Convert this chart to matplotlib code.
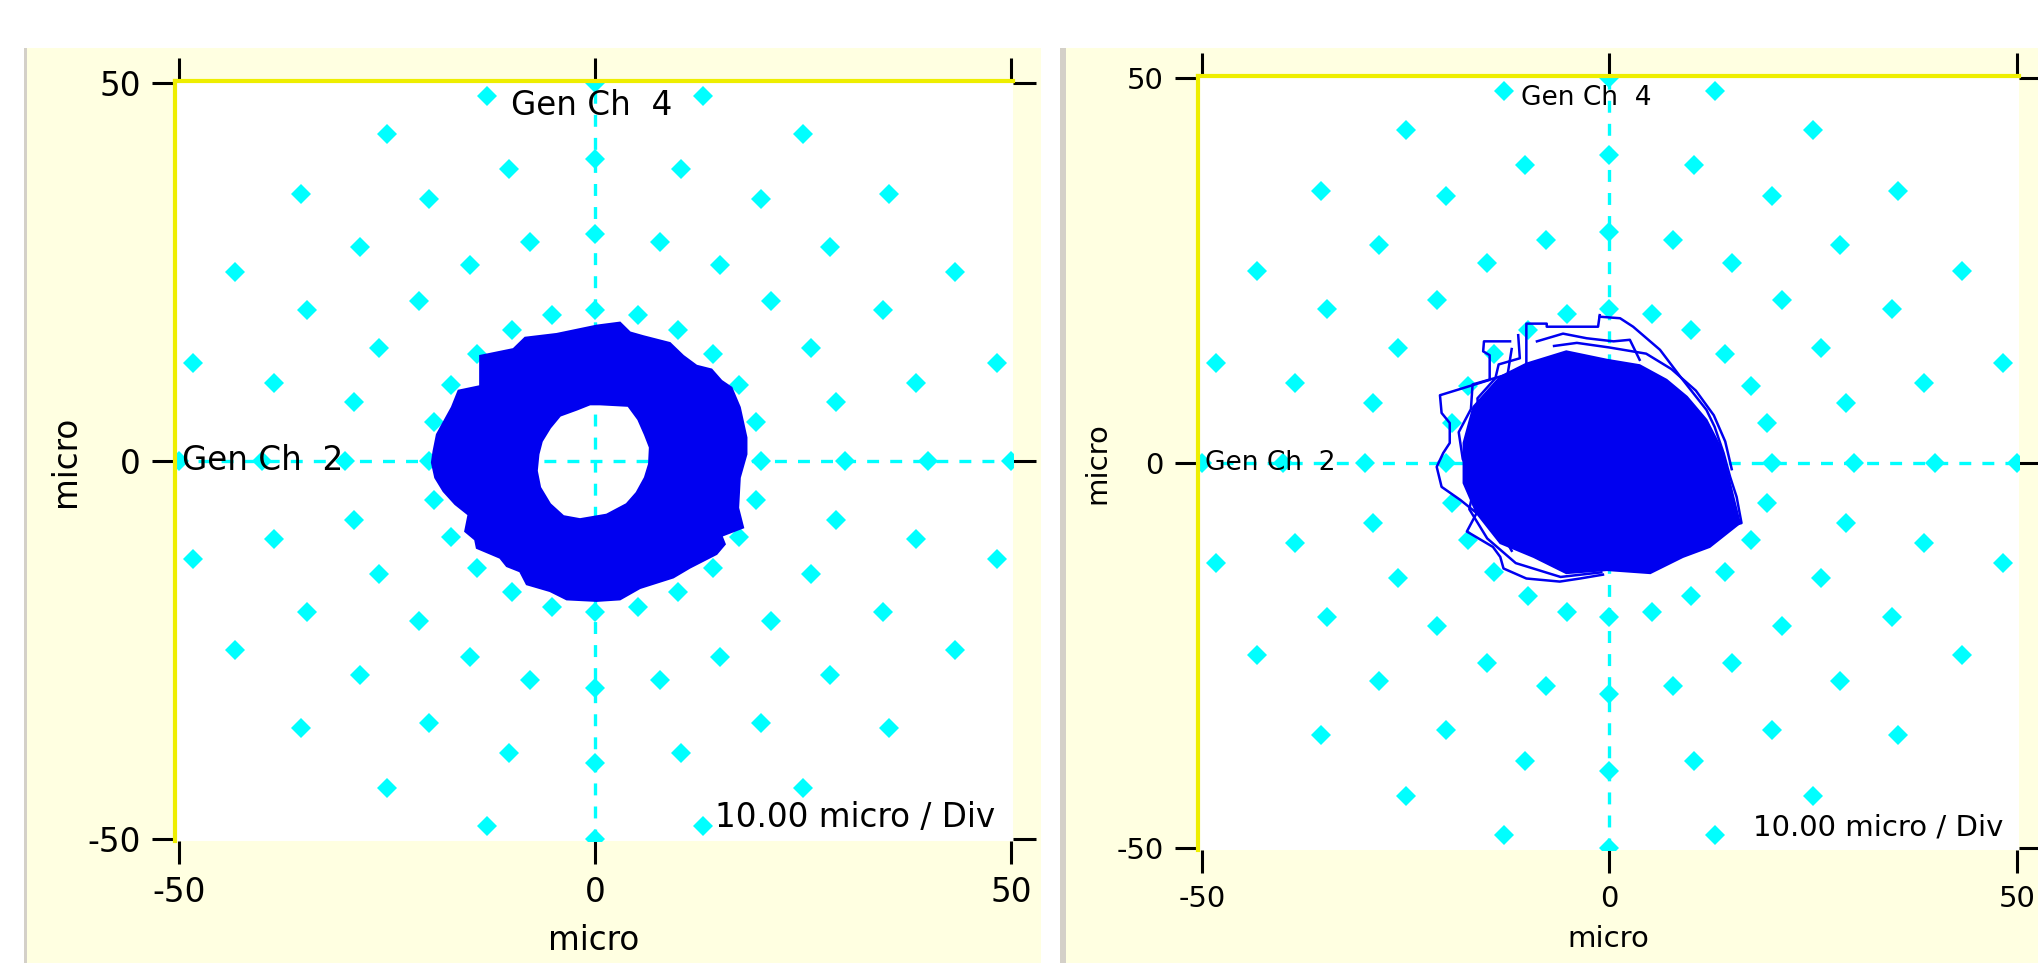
"""Two orbit plots (Gen Ch 2 vs Gen Ch 4) on a cream instrument-style background."""
import numpy as np
import matplotlib
matplotlib.use("Agg")
import matplotlib.pyplot as plt
from matplotlib.patches import Rectangle, PathPatch
from matplotlib.path import Path

W, H = 2038, 963

# polar graticule of the orbit display (micro)
RING_RADII = [10, 20, 30, 40, 50]
RING_ANGLES = [0, 15, 30, 45, 60, 75, 90, 105, 120, 135, 150, 165,
               180, 195, 210, 225, 240, 255, 270, 285, 300, 315, 330, 345]

TICKS = [-50, 0, 50]

# left orbit: dense ring, outer and inner edge
L_OUTER_X = [3.0, 0.2, -4.6, -8.4, -9.8, -13.8, -13.8, -16.4, -17.2, -18.2, -19.0,
             -19.4, -19.6, -19.2, -18.2, -16.8, -15.2, -15.6, -14.4, -14.2, -11.4,
             -10.6, -9.0, -8.2, -5.4, -3.4, 0.2, 3.0, 5.4, 9.4, 11.4, 14.6, 15.6,
             15.2, 17.8, 17.2, 17.4, 18.2, 18.2, 17.4, 16.4, 15.2, 14.0, 12.2,
             10.6, 9.0, 5.8, 4.2]
L_OUTER_Y = [18.3, 17.9, 16.8, 16.3, 14.8, 13.9, 9.9, 9.3, 7.1, 5.1, 3.5,
             1.3, -0.2, -2.2, -4.0, -5.7, -7.1, -9.3, -10.4, -11.5, -12.8,
             -13.9, -14.6, -16.3, -17.2, -18.3, -18.5, -18.3, -16.8, -15.4, -14.1,
             -12.3, -11.0, -9.9, -8.8, -6.2, -2.2, 0.9, 3.1, 7.1, 9.7, 10.6, 12.1,
             12.6, 13.9, 15.6, 16.5, 17.0]
L_INNER_X = [0.6, 4.0, 5.2, 6.0, 6.6, 6.5, 6.0, 5.0, 3.8, 1.4, -1.8, -3.8, -5.4,
             -6.6, -7.0, -6.8, -6.4, -5.4, -4.2, -2.2, -0.6]
L_INNER_Y = [7.5, 7.3, 5.5, 3.5, 1.8, -0.4, -2.2, -4.2, -5.7, -7.1, -7.7, -7.3,
             -5.7, -3.5, -1.3, 0.9, 2.6, 4.4, 6.0, 6.8, 7.5]

# right orbit: dense core plus the loose outer loops
R_CORE_X = [-10.2, -5.3, -0.3, 3.7, 7.0, 9.5, 11.9, 13.6, 14.6, 15.2, 16.0, 12.3,
            9.0, 5.0, -0.3, -5.3, -9.3, -13.4, -16.3, -17.9, -17.9, -16.7, -13.4]
R_CORE_Y = [12.9, 14.5, 13.4, 12.7, 10.8, 8.6, 5.6, 2.1, -1.8, -4.4, -7.8, -10.9,
            -12.2, -14.3, -13.9, -14.3, -12.2, -10.4, -6.5, -2.6, 2.6, 7.3, 11.2]
R_LOOP1_X = [-1.2, -1.4, -7.7, -7.7, -10.2, -10.2]
R_LOOP1_Y = [19.2, 17.7, 17.7, 18.1, 18.1, 12.9]
R_LOOP2_X = [-12.2, -15.4, -15.5, -14.7, -14.7, -15.9, -20.8, -20.6, -19.6, -19.6,
             -20.4, -21.2, -20.6, -18.3, -16.3, -17.5, -14.3, -13.4, -13.0, -10.2,
             -6.1, -3.6, -0.8]
R_LOOP2_Y = [15.8, 15.8, 14.5, 14.0, 10.8, 10.4, 8.8, 6.5, 5.2, 2.6,
             1.3, -0.5, -3.1, -4.8, -6.5, -8.9, -10.9, -12.2, -13.7, -15.0,
             -15.4, -15.0, -14.5]
R_LOOP3_X = [-1.2, 1.3, 2.9, 6.2, 8.7, 11.9, 12.9, 14.0, 14.8, 15.6, 16.2, 14.4]
R_LOOP3_Y = [19.0, 18.8, 17.7, 14.7, 11.2, 6.9, 4.7, 1.3, -1.8, -4.4, -7.8, -8.3]
R_LOOP4_X = [-8.9, -5.7, -2.8, 0.5, 2.5, 3.7]
R_LOOP4_Y = [15.8, 16.8, 16.2, 15.8, 16.0, 13.4]
R_LOOP5_X = [-12.0, -12.5, -16.8, -17.0, -18.5, -18.0, -16.5, -17.2, -15.0, -11.5,
             -6.0, -1.0]
R_LOOP5_Y = [14.8, 11.5, 10.2, 7.0, 4.0, 0.5, -2.5, -6.0, -9.8, -13.0,
             -14.8, -14.2]
R_LOOP6_X = [-11.2, -11.0, -13.6, -14.0, -16.2, -16.0, -15.0, -15.6, -13.8, -12.0]
R_LOOP6_Y = [16.6, 13.6, 12.8, 11.0, 8.4, 5.0, 1.0, -4.0, -8.0, -11.4]
R_LOOP7_X = [-6.8, -4.0, 0.0, 4.5, 7.6, 10.6, 12.8, 14.2, 15.0]
R_LOOP7_Y = [15.2, 15.6, 15.0, 14.2, 12.2, 9.4, 6.2, 2.8, -0.8]

CREAM = "#FFFFE1"
EDGE_GREY = "#D4D0C8"
YELLOW = "#EEEE00"
CYAN = "#00FFFF"
BLUE = "#0000F0"

plt.rcParams["font.family"] = ["DejaVu Sans"]
plt.rcParams["axes.unicode_minus"] = False
plt.rcParams["lines.scale_dashes"] = False


def fig_rect(fig, x0, y0, x1, y1, color):
    # pixel box (top-left origin) -> figure fraction
    fig.add_artist(Rectangle((x0 / W, 1 - y1 / H), (x1 - x0) / W, (y1 - y0) / H,
                             transform=fig.transFigure, color=color, lw=0, zorder=0))


def make_axes(fig, x0, y0, x1, y1, xlim, ylim):
    ax = fig.add_axes([x0 / W, 1 - y1 / H, (x1 - x0) / W, (y1 - y0) / H])
    ax.set_xlim(*xlim)
    ax.set_ylim(*ylim)
    ax.set_facecolor("white")
    for sp in ("right", "bottom"):
        ax.spines[sp].set_visible(False)
    for sp in ("left", "top"):
        ax.spines[sp].set_color(YELLOW)
        ax.spines[sp].set_linewidth(3)
    return ax


def dress(ax, fs, gen_fs, lab_x, lab_y, gen4_xy, div_xy):
    ax.set_xticks(TICKS)
    ax.set_yticks(TICKS)
    ax.tick_params(axis="both", which="both", direction="out", length=16.5, width=2.2,
                   color="black", labelsize=fs, top=True, right=True,
                   labeltop=False, labelright=False)
    ax.tick_params(axis="y", pad=8)
    ax.tick_params(axis="x", pad=9)

    # graticule + crosshair
    ang = np.deg2rad(RING_ANGLES)
    for r in RING_RADII:
        ax.plot(r * np.cos(ang), r * np.sin(ang), ls="none", marker="D", ms=10.5,
                mew=0, color=CYAN, zorder=2)
    ax.axhline(0, color=CYAN, lw=2.4, dashes=(8.6, 8), zorder=1)
    ax.axvline(0, color=CYAN, lw=2.4, dashes=(8.6, 8), zorder=1)

    ax.text(-49.6, 0, "Gen Ch  2", fontsize=gen_fs, ha="left", va="center", zorder=5)
    ax.text(gen4_xy[0], gen4_xy[1], "Gen Ch  4", fontsize=gen_fs, ha="center",
            va="center", zorder=5)
    ax.text(div_xy[0], div_xy[1], "10.00 micro / Div", fontsize=fs,
            ha="right", va="center", zorder=5)

    ax.text(lab_x, 0.5, "micro", rotation=90, fontsize=fs, ha="center", va="center",
            transform=ax.transAxes)
    ax.text(0.5, lab_y, "micro", fontsize=fs, ha="center", va="center",
            transform=ax.transAxes)


fig = plt.figure(figsize=(W / 100, H / 100), dpi=100)
fig.patch.set_facecolor("white")

# panel backgrounds with the grey left border
fig_rect(fig, 24, 48, 27, H, EDGE_GREY)
fig_rect(fig, 27, 48, 1041, H, CREAM)
fig_rect(fig, 1060, 48, 1066, H, EDGE_GREY)
fig_rect(fig, 1066, 48, W, H, CREAM)

# left panel
axl = make_axes(fig, 175, 81, 1013, 841, (-50.48, 50.24), (-50.26, 50.26))
dress(axl, 23.5, 23.5, -0.131, -0.131, (-0.4, 47.0), (48.1, -47.1))
outer = list(zip(L_OUTER_X, L_OUTER_Y)) + [(L_OUTER_X[0], L_OUTER_Y[0])]
hole = list(zip(L_INNER_X, L_INNER_Y)) + [(L_INNER_X[0], L_INNER_Y[0])]
codes = ([Path.MOVETO] + [Path.LINETO] * (len(outer) - 2) + [Path.CLOSEPOLY]
         + [Path.MOVETO] + [Path.LINETO] * (len(hole) - 2) + [Path.CLOSEPOLY])
axl.add_patch(PathPatch(Path(outer + hole, codes), facecolor=BLUE, edgecolor=BLUE,
                        lw=1.5, zorder=3))

# right panel
axr = make_axes(fig, 1198, 76, 2019, 850, (-50.49, 50.25), (-50.26, 50.26))
dress(axr, 21.0, 19.0, -0.122, -0.115, (-2.9, 47.4), (48.3, -47.4))
axr.fill(R_CORE_X, R_CORE_Y, color=BLUE, lw=1.5, zorder=3)
for lx, ly in ((R_LOOP1_X, R_LOOP1_Y), (R_LOOP2_X, R_LOOP2_Y), (R_LOOP3_X, R_LOOP3_Y),
               (R_LOOP4_X, R_LOOP4_Y), (R_LOOP5_X, R_LOOP5_Y), (R_LOOP6_X, R_LOOP6_Y),
               (R_LOOP7_X, R_LOOP7_Y)):
    axr.plot(lx, ly, color=BLUE, lw=1.8, zorder=3)

fig.savefig("out.png", dpi=100, facecolor=fig.get_facecolor())
